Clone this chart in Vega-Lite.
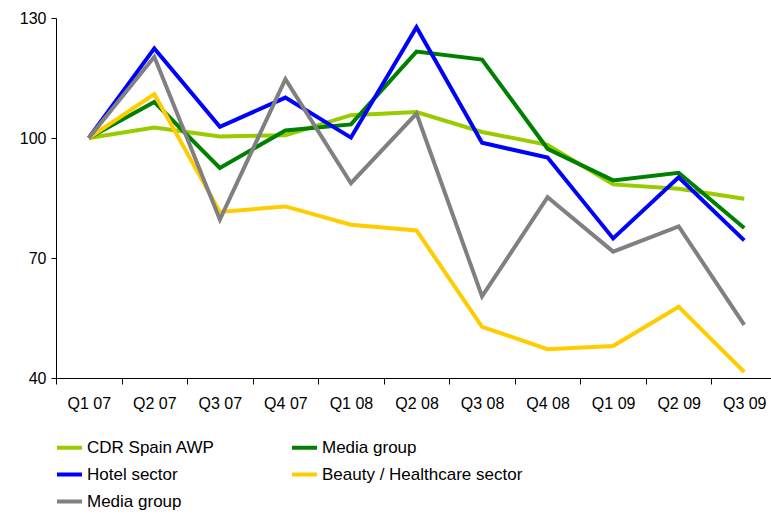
{
  "$schema": "https://vega.github.io/schema/vega-lite/v6.json",
  "autosize": {"type": "none"},
  "padding": {"left": 56, "top": 18, "right": 0, "bottom": 136},
  "width": 721,
  "height": 360,
  "background": "white",
  "config": {"view": {"stroke": null}, "font": "Liberation Sans"},
  "data": {"values": [
    {"q": "Q1 07", "s": "s1", "v": 100}, {"q": "Q2 07", "s": "s1", "v": 102.6}, {"q": "Q3 07", "s": "s1", "v": 100.4}, {"q": "Q4 07", "s": "s1", "v": 100.7}, {"q": "Q1 08", "s": "s1", "v": 105.7}, {"q": "Q2 08", "s": "s1", "v": 106.5}, {"q": "Q3 08", "s": "s1", "v": 101.5}, {"q": "Q4 08", "s": "s1", "v": 98.3}, {"q": "Q1 09", "s": "s1", "v": 88.4}, {"q": "Q2 09", "s": "s1", "v": 87.3}, {"q": "Q3 09", "s": "s1", "v": 84.8},
    {"q": "Q1 07", "s": "s2", "v": 100}, {"q": "Q2 07", "s": "s2", "v": 109}, {"q": "Q3 07", "s": "s2", "v": 92.5}, {"q": "Q4 07", "s": "s2", "v": 101.9}, {"q": "Q1 08", "s": "s2", "v": 103.4}, {"q": "Q2 08", "s": "s2", "v": 121.6}, {"q": "Q3 08", "s": "s2", "v": 119.6}, {"q": "Q4 08", "s": "s2", "v": 97.3}, {"q": "Q1 09", "s": "s2", "v": 89.4}, {"q": "Q2 09", "s": "s2", "v": 91.3}, {"q": "Q3 09", "s": "s2", "v": 77.5},
    {"q": "Q1 07", "s": "s3", "v": 100}, {"q": "Q2 07", "s": "s3", "v": 122.4}, {"q": "Q3 07", "s": "s3", "v": 102.8}, {"q": "Q4 07", "s": "s3", "v": 110.1}, {"q": "Q1 08", "s": "s3", "v": 100.1}, {"q": "Q2 08", "s": "s3", "v": 127.7}, {"q": "Q3 08", "s": "s3", "v": 98.8}, {"q": "Q4 08", "s": "s3", "v": 95.1}, {"q": "Q1 09", "s": "s3", "v": 74.9}, {"q": "Q2 09", "s": "s3", "v": 90.2}, {"q": "Q3 09", "s": "s3", "v": 74.4},
    {"q": "Q1 07", "s": "s4", "v": 100}, {"q": "Q2 07", "s": "s4", "v": 111}, {"q": "Q3 07", "s": "s4", "v": 81.5}, {"q": "Q4 07", "s": "s4", "v": 82.9}, {"q": "Q1 08", "s": "s4", "v": 78.3}, {"q": "Q2 08", "s": "s4", "v": 76.9}, {"q": "Q3 08", "s": "s4", "v": 52.8}, {"q": "Q4 08", "s": "s4", "v": 47.2}, {"q": "Q1 09", "s": "s4", "v": 48}, {"q": "Q2 09", "s": "s4", "v": 57.8}, {"q": "Q3 09", "s": "s4", "v": 41.5},
    {"q": "Q1 07", "s": "s5", "v": 100}, {"q": "Q2 07", "s": "s5", "v": 120.3}, {"q": "Q3 07", "s": "s5", "v": 79.6}, {"q": "Q4 07", "s": "s5", "v": 114.7}, {"q": "Q1 08", "s": "s5", "v": 88.7}, {"q": "Q2 08", "s": "s5", "v": 106.1}, {"q": "Q3 08", "s": "s5", "v": 60.4}, {"q": "Q4 08", "s": "s5", "v": 85.2}, {"q": "Q1 09", "s": "s5", "v": 71.6}, {"q": "Q2 09", "s": "s5", "v": 77.9}, {"q": "Q3 09", "s": "s5", "v": 53.3}
  ]},
  "mark": {"type": "line", "strokeWidth": 4, "strokeJoin": "miter", "strokeCap": "butt"},
  "encoding": {
    "x": {
      "field": "q", "type": "ordinal", "sort": null, "bandPosition": 0.5,
      "scale": {"type": "band", "paddingInner": 0, "paddingOuter": 0},
      "axis": {"title": null, "labelAngle": 0, "tickBand": "extent", "domainColor": "#000", "tickColor": "#000", "tickSize": 6, "labelPadding": 11, "labelFontSize": 16, "labelColor": "#000"}
    },
    "y": {
      "field": "v", "type": "quantitative",
      "scale": {"domain": [40, 130], "nice": false, "zero": false},
      "axis": {"title": null, "values": [40, 70, 100, 130], "grid": false, "domainColor": "#000", "tickColor": "#000", "tickSize": 5, "labelPadding": 5, "labelFontSize": 16, "labelColor": "#000"}
    },
    "color": {
      "field": "s", "type": "nominal",
      "scale": {"domain": ["s1", "s2", "s3", "s4", "s5"], "range": ["#99CC00", "#008000", "#0000FF", "#FFCC00", "#808080"]},
      "legend": {
        "title": null, "orient": "none", "direction": "horizontal", "legendX": -1, "legendY": 415, "columns": 2, "columnPadding": 69, "rowPadding": 4, "padding": 0,
        "symbolType": "stroke", "symbolSize": 625, "symbolStrokeWidth": 4, "labelOffset": 3,
        "labelFontSize": 17, "labelColor": "#000", "labelLimit": 400,
        "labelExpr": "{'s1': 'CDR Spain AWP', 's2': 'Media group', 's3': 'Hotel sector', 's4': 'Beauty / Healthcare sector', 's5': 'Media group'}[datum.value]"
      }
    }
  }
}
